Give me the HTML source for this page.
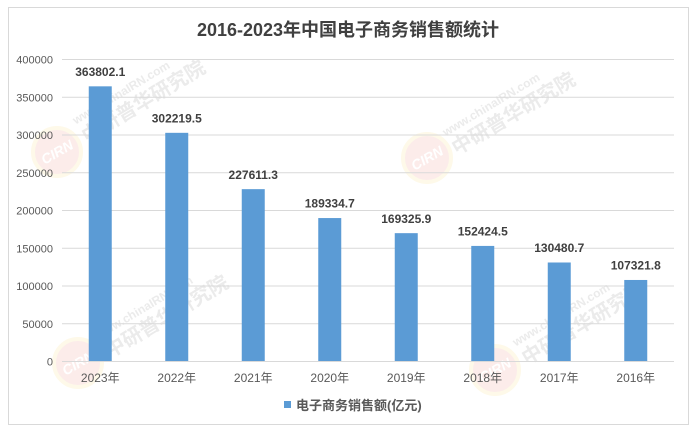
<!DOCTYPE html>
<html><head><meta charset="utf-8"><style>
html,body{margin:0;padding:0;background:#fff;}
svg{display:block;}
text{font-family:"Liberation Sans","Noto Sans CJK SC",sans-serif;}
</style></head><body>
<svg width="696" height="435" viewBox="0 0 696 435" xmlns="http://www.w3.org/2000/svg">
<rect x="0" y="0" width="696" height="435" fill="#fff"/>
<rect x="8.5" y="7.5" width="680" height="417" fill="#fff" stroke="#d9d9d9" stroke-width="1"/>

<!-- watermarks -->
<g opacity="0.22">
  <g transform="translate(57,152)">
    <circle r="24" fill="#f0a8a0"/><circle r="24" fill="none" stroke="#f8e39a" stroke-width="4"/>
    <text x="0" y="5" font-size="14" font-weight="bold" font-style="italic" fill="#fff" text-anchor="middle" transform="rotate(-30)">CIRN</text>
  </g>
  <g transform="translate(427,158)">
    <circle r="24" fill="#f0a8a0"/><circle r="24" fill="none" stroke="#f8e39a" stroke-width="4"/>
    <text x="0" y="5" font-size="14" font-weight="bold" font-style="italic" fill="#fff" text-anchor="middle" transform="rotate(-30)">CIRN</text>
  </g>
  <g transform="translate(78,363)">
    <circle r="24" fill="#f0a8a0"/><circle r="24" fill="none" stroke="#f8e39a" stroke-width="4"/>
    <text x="0" y="5" font-size="14" font-weight="bold" font-style="italic" fill="#fff" text-anchor="middle" transform="rotate(-30)">CIRN</text>
  </g>
  <g transform="translate(495,370)">
    <circle r="24" fill="#f0a8a0"/><circle r="24" fill="none" stroke="#f8e39a" stroke-width="4"/>
    <text x="0" y="5" font-size="14" font-weight="bold" font-style="italic" fill="#fff" text-anchor="middle" transform="rotate(-30)">CIRN</text>
  </g>
</g>
<g opacity="0.2" fill="#999" font-weight="bold">
  <g transform="translate(85,140) rotate(-31)">
    <text x="0" y="-18" font-size="12">www.chinaIRN.com</text>
    <text x="0" y="4" font-size="20">中研普华研究院</text>
  </g>
  <g transform="translate(455,152) rotate(-31)">
    <text x="0" y="-18" font-size="12">www.chinaIRN.com</text>
    <text x="0" y="4" font-size="20">中研普华研究院</text>
  </g>
  <g transform="translate(108,355) rotate(-31)">
    <text x="0" y="-18" font-size="12">www.chinaIRN.com</text>
    <text x="0" y="4" font-size="20">中研普华研究院</text>
  </g>
  <g transform="translate(525,362) rotate(-31)">
    <text x="0" y="-18" font-size="12">www.chinaIRN.com</text>
    <text x="0" y="4" font-size="20">中研普华研究院</text>
  </g>
</g>

<!-- title -->
<text x="348" y="36" font-size="18" fill="#404040" text-anchor="middle"><tspan font-weight="bold">2016-2023</tspan><tspan font-weight="600">年中国电子商务销售额统计</tspan></text>

<!-- gridlines -->
<g stroke="#d9d9d9" stroke-width="1">
  <line x1="62" x2="674" y1="59.5" y2="59.5"/>
  <line x1="62" x2="674" y1="97.25" y2="97.25"/>
  <line x1="62" x2="674" y1="135" y2="135"/>
  <line x1="62" x2="674" y1="172.75" y2="172.75"/>
  <line x1="62" x2="674" y1="210.5" y2="210.5"/>
  <line x1="62" x2="674" y1="248.25" y2="248.25"/>
  <line x1="62" x2="674" y1="286" y2="286"/>
  <line x1="62" x2="674" y1="323.75" y2="323.75"/>
  <line x1="62" x2="674" y1="361.5" y2="361.5"/>
</g>

<!-- y labels -->
<g font-size="11" fill="#595959" text-anchor="end">
  <text x="53" y="63.5">400000</text>
  <text x="53" y="101.25">350000</text>
  <text x="53" y="139">300000</text>
  <text x="53" y="176.75">250000</text>
  <text x="53" y="214.5">200000</text>
  <text x="53" y="252.25">150000</text>
  <text x="53" y="290">100000</text>
  <text x="53" y="327.75">50000</text>
  <text x="53" y="365.5">0</text>
</g>

<!-- bars -->
<g fill="#5b9bd5">
  <rect x="88.75" y="86.33" width="23" height="274.67"/>
  <rect x="165.25" y="132.82" width="23" height="228.18"/>
  <rect x="241.75" y="189.15" width="23" height="171.85"/>
  <rect x="318.25" y="218.05" width="23" height="142.95"/>
  <rect x="394.75" y="233.16" width="23" height="127.84"/>
  <rect x="471.25" y="245.92" width="23" height="115.08"/>
  <rect x="547.75" y="262.49" width="23" height="98.51"/>
  <rect x="624.25" y="279.97" width="23" height="81.03"/>
</g>

<!-- data labels -->
<g font-size="12" font-weight="bold" fill="#404040" text-anchor="middle">
  <text x="100.25" y="76">363802.1</text>
  <text x="176.75" y="122.5">302219.5</text>
  <text x="253.25" y="178.8">227611.3</text>
  <text x="329.75" y="207.7">189334.7</text>
  <text x="406.25" y="222.8">169325.9</text>
  <text x="482.75" y="235.6">152424.5</text>
  <text x="559.25" y="252.1">130480.7</text>
  <text x="635.75" y="269.6">107321.8</text>
</g>

<!-- x labels -->
<g font-size="12" fill="#595959" text-anchor="middle">
  <text x="100.25" y="382">2023年</text>
  <text x="176.75" y="382">2022年</text>
  <text x="253.25" y="382">2021年</text>
  <text x="329.75" y="382">2020年</text>
  <text x="406.25" y="382">2019年</text>
  <text x="482.75" y="382">2018年</text>
  <text x="559.25" y="382">2017年</text>
  <text x="635.75" y="382">2016年</text>
</g>

<!-- legend -->
<rect x="284" y="401" width="7" height="7" fill="#5b9bd5"/>
<text x="296" y="410" font-size="13" font-weight="bold" fill="#595959">电子商务销售额(亿元)</text>
</svg>
</body></html>
